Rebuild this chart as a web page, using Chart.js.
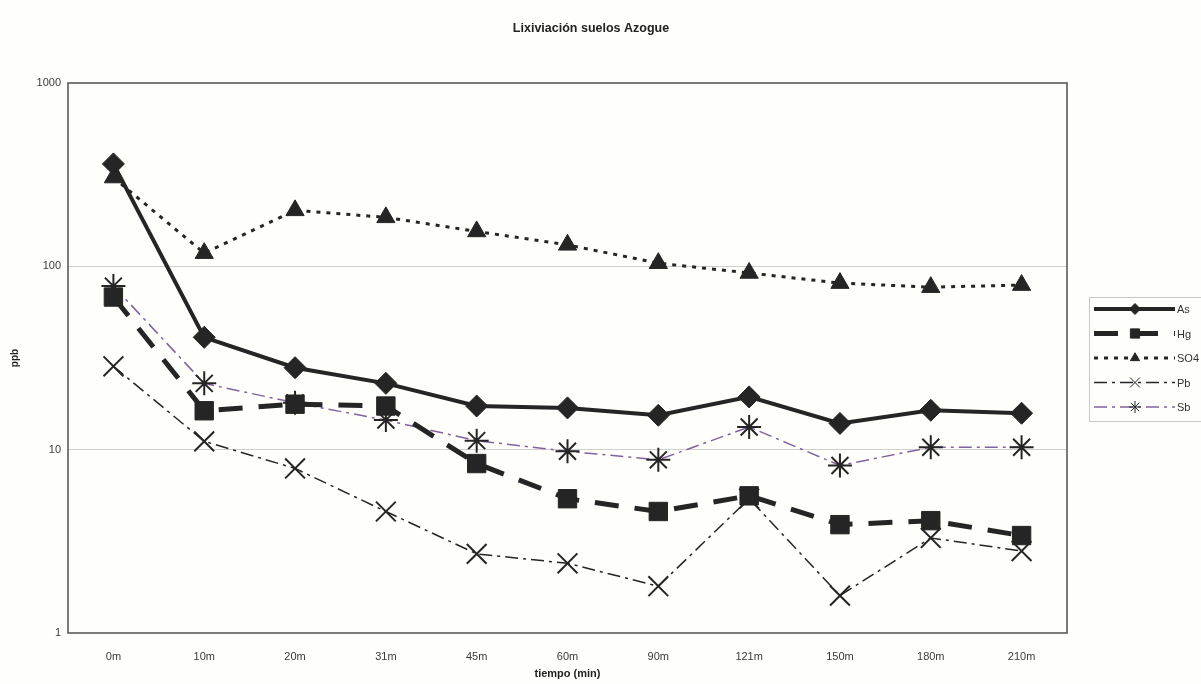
<!DOCTYPE html>
<html>
<head>
<meta charset="utf-8">
<script src="https://cdn.jsdelivr.net/npm/chart.js@4/dist/chart.umd.min.js"></script>
<style>
  html, body { margin: 0; padding: 0; background: #fefefb; }
  #wrap { width: 1201px; height: 684px; }
</style>
</head>
<body>
<div id="wrap"><canvas id="chart" width="1201" height="684"></canvas></div>
<script>
// Data
const categories = ['0m', '10m', '20m', '31m', '45m', '60m', '90m', '121m', '150m', '180m', '210m'];
const asValues  = [362, 41, 28, 23, 17.3, 16.9, 15.4, 19.4, 13.9, 16.4, 15.8];
const hgValues  = [68, 16.3, 17.7, 17.3, 8.4, 5.4, 4.6, 5.6, 3.9, 4.1, 3.4];
const so4Values = [305, 118, 202, 185, 155, 131, 104, 92, 81, 77, 79];
const pbValues  = [28.5, 11.1, 7.9, 4.6, 2.7, 2.4, 1.8, 5.4, 1.6, 3.3, 2.8];
const sbValues  = [78, 23, 18, 14.5, 11.2, 9.8, 8.8, 13.3, 8.2, 10.3, 10.3];
const yTicks = [1, 10, 100, 1000];

const ink = '#252525';
const font = '"Liberation Sans", Arial, sans-serif';

// Paper background and the title (centred on the whole page, not the plot)
const background = {
    id: 'background',
    beforeDraw(chart) {
        const ctx = chart.ctx;
        ctx.save();
        ctx.fillStyle = '#fefefb';
        ctx.fillRect(0, 0, chart.width, chart.height);
        ctx.fillStyle = '#222';
        ctx.font = 'bold 12.5px ' + font;
        ctx.textAlign = 'center';
        ctx.textBaseline = 'middle';
        ctx.fillText('Lixiviación suelos Azogue', 591, 29);
        ctx.restore();
    }
};

// Box round the plot area
const frame = {
    id: 'frame',
    beforeDatasetsDraw(chart) {
        const { ctx, chartArea: a } = chart;
        ctx.save();
        ctx.strokeStyle = '#5a5a5a';
        ctx.lineWidth = 1.6;
        ctx.strokeRect(a.left, a.top, a.right - a.left, a.bottom - a.top);
        ctx.restore();
    }
};

// Excel style legend: line sample with marker in the middle
const lineLegend = {
    id: 'lineLegend',
    afterDraw(chart) {
        const ctx = chart.ctx;
        ctx.save();
        ctx.strokeStyle = '#c8c8c8';
        ctx.lineWidth = 1;
        ctx.strokeRect(1089.5, 297.5, 120, 124);
        chart.data.datasets.forEach((ds, i) => {
            const y = 309 + i * 24.5;
            ctx.save();
            ctx.strokeStyle = ds.borderColor;
            ctx.lineWidth = ds.borderWidth;
            ctx.setLineDash(ds.borderDash || []);
            ctx.beginPath();
            ctx.moveTo(1094, y);
            ctx.lineTo(1175, y);
            ctx.stroke();
            ctx.restore();
            ctx.fillStyle = ds.pointBackgroundColor;
            ctx.strokeStyle = ds.pointBorderColor;
            Chart.helpers.drawPoint(ctx, {
                pointStyle: ds.pointStyle,
                radius: ds.pointRadius * 0.5,
                rotation: 0,
                borderWidth: ds.pointBorderWidth
            }, 1135, y);
            ctx.fillStyle = '#333';
            ctx.font = '11px ' + font;
            ctx.textBaseline = 'middle';
            ctx.fillText(ds.label, 1177, y + 1);
        });
        ctx.restore();
    }
};

new Chart(document.getElementById('chart'), {
    type: 'line',
    data: {
        labels: categories,
        datasets: [
            {
                label: 'As', data: asValues,
                borderColor: ink, borderWidth: 4,
                pointStyle: 'rectRot', pointRadius: 11,
                pointBackgroundColor: ink, pointBorderColor: ink, pointBorderWidth: 1
            },
            {
                label: 'Hg', data: hgValues,
                borderColor: ink, borderWidth: 5, borderDash: [24, 16],
                pointStyle: 'rect', pointRadius: 13,
                pointBackgroundColor: ink, pointBorderColor: ink, pointBorderWidth: 1
            },
            {
                label: 'SO4', data: so4Values,
                borderColor: ink, borderWidth: 3, borderDash: [4, 6],
                pointStyle: 'triangle', pointRadius: 10.5,
                pointBackgroundColor: ink, pointBorderColor: ink, pointBorderWidth: 1
            },
            {
                label: 'Pb', data: pbValues,
                borderColor: ink, borderWidth: 1.5, borderDash: [13, 5, 3, 5],
                pointStyle: 'crossRot', pointRadius: 14,
                pointBackgroundColor: ink, pointBorderColor: ink, pointBorderWidth: 2
            },
            {
                label: 'Sb', data: sbValues,
                borderColor: '#8063a0', borderWidth: 1.5, borderDash: [13, 5, 3, 5],
                pointStyle: 'star', pointRadius: 12,
                pointBackgroundColor: ink, pointBorderColor: ink, pointBorderWidth: 2
            }
        ]
    },
    options: {
        responsive: false,
        animation: false,
        events: [],
        layout: { padding: { left: 0, right: 134, top: 83, bottom: 0 } },
        elements: { line: { tension: 0 } },
        plugins: {
            legend: { display: false },
            tooltip: { enabled: false },
            title: { display: false }
        },
        scales: {
            x: {
                type: 'category',
                offset: true,
                grid: { display: false, drawTicks: false },
                border: { display: false },
                ticks: {
                    color: '#3a3a3a', padding: 17, maxRotation: 0,
                    font: { family: font, size: 11 }
                },
                title: {
                    display: true, text: 'tiempo (min)', color: '#222',
                    font: { family: font, size: 11, weight: 'bold' },
                    padding: { top: 0, bottom: 3 }
                },
                afterFit(scale) { scale.height = 51; }
            },
            y: {
                type: 'logarithmic',
                min: 1, max: 1000,
                afterBuildTicks(scale) {
                    scale.ticks = yTicks.map(v => ({ value: v }));
                },
                grid: {
                    drawTicks: false,
                    color: ctx => (ctx.tick && (ctx.tick.value === 10 || ctx.tick.value === 100)) ? '#cfcfcf' : 'rgba(0,0,0,0)',
                    lineWidth: 1
                },
                border: { display: false },
                ticks: {
                    color: '#3a3a3a', padding: 7,
                    font: { family: font, size: 11 },
                    callback: v => String(v)
                },
                title: {
                    display: true, text: 'ppb', color: '#222',
                    font: { family: font, size: 10, weight: 'bold' },
                    padding: { top: 9, bottom: 0 }
                },
                afterFit(scale) { scale.width = 68; }
            }
        }
    },
    plugins: [background, frame, lineLegend]
});
</script>
</body>
</html>
